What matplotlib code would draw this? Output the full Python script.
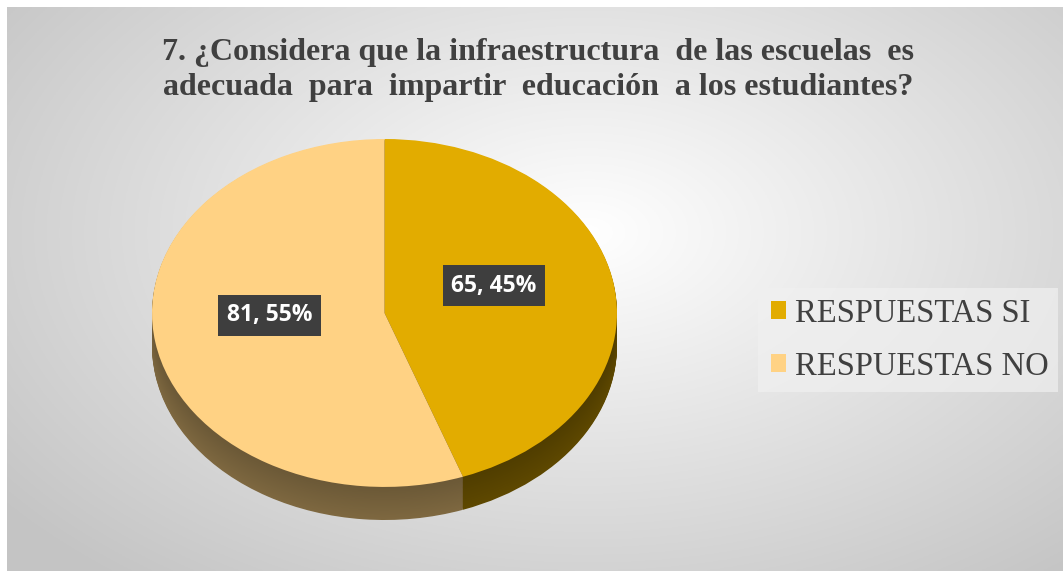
import numpy as np
import matplotlib
matplotlib.use("Agg")
import matplotlib.pyplot as plt
from matplotlib.patches import Rectangle
from matplotlib.colors import to_rgb

title = "7. ¿Considera que la infraestructura  de las escuelas  es\nadecuada  para  impartir  educación  a los estudiantes?"
categories = ["RESPUESTAS SI", "RESPUESTAS NO"]
values = [65, 81]
top_colors = ["#E2AC00", "#FFD284"]
side_colors = ["#5E4800", "#7E6840"]

W, H = 1063, 571
fig = plt.figure(figsize=(W / 100, H / 100), dpi=100)
fig.patch.set_facecolor("white")

# background panel with radial gradient
bg = fig.add_axes([7 / W, 0, 1 - 7 / W, 1 - 7 / H])
bg.set_axis_off()
yy, xx = np.mgrid[0:1:300j, 0:1:560j]
cx, cy = 0.55, 0.6
d = np.sqrt(((xx - cx) / 0.7) ** 2 + ((yy - cy) / 0.8) ** 2)
d = np.clip(d, 0, 1)
lo, hi = np.array([0.77, 0.77, 0.77]), np.array([1.0, 1.0, 1.0])
img = hi[None, None, :] * (1 - d[..., None]) + lo[None, None, :] * d[..., None]
bg.imshow(img, extent=[0, 1, 0, 1], aspect="auto", origin="lower")
bg.set_xlim(0, 1)
bg.set_ylim(0, 1)

# pie axes
px0, px1 = 152, 617
py_top, py_bot = 139, 520
ax = fig.add_axes([px0 / W, 1 - py_bot / H, (px1 - px0) / W, (py_bot - py_top) / H])
depth = 0.19
ax.set_xlim(-1, 1)
ax.set_ylim(-1 - depth, 1)
ax.set_axis_off()

# side (depth) of the 3D pie: stacked darker copies
n = 40
for i in range(n, 0, -1):
    off = depth * i / n
    shade = 0.85 + 0.15 * (i / n)
    cols = [tuple(np.clip(np.array(to_rgb(c)) * shade, 0, 1)) for c in side_colors]
    ax.pie(values, colors=cols, startangle=90, counterclock=False,
           center=(0, -off), radius=1, wedgeprops=dict(linewidth=0))

wedges, texts, autotexts = ax.pie(
    values, colors=top_colors, startangle=90, counterclock=False,
    center=(0, 0), radius=1, wedgeprops=dict(linewidth=0),
    autopct=lambda p: f"{int(round(p * sum(values) / 100))}, {p:.0f}%",
    pctdistance=0.5)
ax.set_aspect("auto")
ax.set_xlim(-1, 1)
ax.set_ylim(-1 - depth, 1)
for t in autotexts:
    x, y = t.get_position()
    t.set_position((x * 0.98 - 0.012, y + 0.072))
    t.set_color("white")
    t.set_fontsize(16.5)
    t.set_fontweight("bold")
    t.set_family("Open Sans")
    t.set_bbox(dict(boxstyle="square,pad=0.38", facecolor="#3E3E3E", edgecolor="none"))

# title
fig.text(538 / W, 1 - 70 / H, title, ha="center", va="center",
         fontsize=23, fontweight="bold", family="Liberation Serif",
         color="#404040", linespacing=1.3)

# legend
leg_ax = fig.add_axes([758 / W, 1 - 392 / H, 300 / W, 104 / H])
leg_ax.set_axis_off()
leg_ax.add_patch(Rectangle((0, 0), 1, 1, transform=leg_ax.transAxes,
                           facecolor="#F0F0F0", edgecolor="none", alpha=0.7))
leg_ax.legend(wedges, categories, loc="center left", bbox_to_anchor=(13 / 300, 0.5),
              frameon=False, borderpad=0, borderaxespad=0,
              prop=dict(family="Liberation Serif", size=23.5),
              labelcolor="#404040", handlelength=0.46, handleheight=0.46,
              handletextpad=0.28, labelspacing=0.68)

fig.savefig("out.png", dpi=100)
